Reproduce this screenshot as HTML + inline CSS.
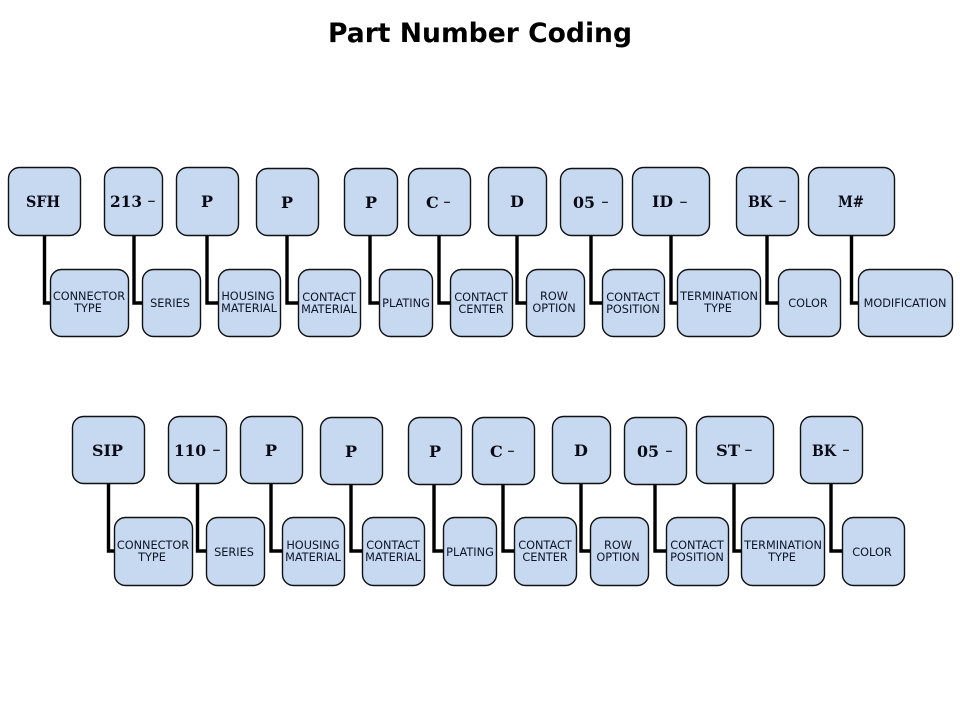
<!DOCTYPE html>
<html><head><meta charset="utf-8"><style>
html,body{margin:0;padding:0;background:#fff}
svg{display:block}
rect{fill:#c6d9f1;stroke:#111;stroke-width:1.4}
path{fill:none;stroke:#000;stroke-width:3.4}
.t{font:bold 26.6px "DejaVu Sans",sans-serif;fill:#000}
.h{font:bold 16px "DejaVu Serif",serif;fill:#0a0a14}
.d{font:16px "DejaVu Sans",sans-serif;fill:#222}
.l{font:11.3px "DejaVu Sans",sans-serif;fill:#0f1426;text-anchor:middle}
</style></head><body>
<svg width="960" height="720" viewBox="0 0 960 720" xmlns="http://www.w3.org/2000/svg">
<text class="t" x="480" y="42" text-anchor="middle">Part Number Coding</text>

<path d="M44.500 235V303H51M134 235V303H143M207 235V303H219M287 235V303H299M370 235V303H380M439 235V303H451M517 235V303H527M591 235V303H603M671 235V303H678M767 235V303H779M851.500 235V303H859"/>
<path d="M108.500 483V551H115M197.500 483V551H207M271 483V551H283M351 483V551H363M434 483V551H444M503 483V551H515M581 483V551H591M655 483V551H667M734 483V551H742M831 483V551H843"/>

<rect x="8.500" y="167.500" width="72" height="68" rx="11"/>
<rect x="104.500" y="167.500" width="58" height="68" rx="11"/>
<rect x="176.500" y="167.500" width="62" height="68" rx="11"/>
<rect x="256.500" y="168.500" width="62" height="67" rx="11"/>
<rect x="344.500" y="168.500" width="53" height="67" rx="11"/>
<rect x="408.500" y="168.500" width="62" height="67" rx="11"/>
<rect x="488.500" y="167.500" width="58" height="68" rx="11"/>
<rect x="560.500" y="168.500" width="62" height="67" rx="11"/>
<rect x="632.500" y="167.500" width="77" height="68" rx="11"/>
<rect x="736.500" y="167.500" width="62" height="68" rx="11"/>
<rect x="808.500" y="167.500" width="86" height="68" rx="11"/>

<rect x="50.500" y="269.500" width="78" height="67" rx="11"/>
<rect x="142.500" y="269.500" width="58" height="67" rx="11"/>
<rect x="218.500" y="269.500" width="62" height="67" rx="11"/>
<rect x="298.500" y="269.500" width="62" height="67" rx="11"/>
<rect x="379.500" y="269.500" width="53" height="67" rx="11"/>
<rect x="450.500" y="269.500" width="62" height="67" rx="11"/>
<rect x="526.500" y="269.500" width="58" height="67" rx="11"/>
<rect x="602.500" y="269.500" width="62" height="67" rx="11"/>
<rect x="677.500" y="269.500" width="83" height="67" rx="11"/>
<rect x="778.500" y="269.500" width="62" height="67" rx="11"/>
<rect x="858.500" y="269.500" width="94" height="67" rx="11"/>

<rect x="72.500" y="416.500" width="72" height="67" rx="11"/>
<rect x="168.500" y="416.500" width="58" height="67" rx="11"/>
<rect x="240.500" y="416.500" width="62" height="67" rx="11"/>
<rect x="320.500" y="417.500" width="62" height="67" rx="11"/>
<rect x="408.500" y="417.500" width="53" height="67" rx="11"/>
<rect x="472.500" y="417.500" width="62" height="67" rx="11"/>
<rect x="552.500" y="416.500" width="58" height="67" rx="11"/>
<rect x="624.500" y="417.500" width="62" height="67" rx="11"/>
<rect x="696.500" y="416.500" width="77" height="67" rx="11"/>
<rect x="800.500" y="416.500" width="62" height="67" rx="11"/>

<rect x="114.500" y="517.500" width="78" height="68" rx="11"/>
<rect x="206.500" y="517.500" width="58" height="68" rx="11"/>
<rect x="282.500" y="517.500" width="62" height="68" rx="11"/>
<rect x="362.500" y="517.500" width="62" height="68" rx="11"/>
<rect x="443.500" y="517.500" width="53" height="68" rx="11"/>
<rect x="514.500" y="517.500" width="62" height="68" rx="11"/>
<rect x="590.500" y="517.500" width="58" height="68" rx="11"/>
<rect x="666.500" y="517.500" width="62" height="68" rx="11"/>
<rect x="741.500" y="517.500" width="83" height="68" rx="11"/>
<rect x="842.500" y="517.500" width="62" height="68" rx="11"/>

<text class="h" x="26" y="207" textLength="34" lengthAdjust="spacingAndGlyphs">SFH</text>
<text class="h" x="110" y="207" textLength="32" lengthAdjust="spacingAndGlyphs">213</text><text class="d" x="147" y="206" textLength="9" lengthAdjust="spacingAndGlyphs">-</text>
<text class="h" x="201" y="207">P</text>
<text class="h" x="281" y="208">P</text>
<text class="h" x="365" y="208">P</text>
<text class="h" x="426" y="208">C</text><text class="d" x="443" y="207" textLength="8" lengthAdjust="spacingAndGlyphs">-</text>
<text class="h" x="510" y="207">D</text>
<text class="h" x="573" y="208" textLength="22" lengthAdjust="spacingAndGlyphs">05</text><text class="d" x="601" y="207" textLength="8" lengthAdjust="spacingAndGlyphs">-</text>
<text class="h" x="652" y="207" textLength="21" lengthAdjust="spacingAndGlyphs">ID</text><text class="d" x="679" y="207" textLength="9" lengthAdjust="spacingAndGlyphs">-</text>
<text class="h" x="748" y="207" textLength="24" lengthAdjust="spacingAndGlyphs">BK</text><text class="d" x="778" y="206" textLength="9" lengthAdjust="spacingAndGlyphs">-</text>
<text class="h" x="838" y="207" textLength="26" lengthAdjust="spacingAndGlyphs">M#</text>

<text class="h" x="92" y="456" textLength="31" lengthAdjust="spacingAndGlyphs">SIP</text>
<text class="h" x="174" y="456" textLength="32" lengthAdjust="spacingAndGlyphs">110</text><text class="d" x="212" y="455" textLength="9" lengthAdjust="spacingAndGlyphs">-</text>
<text class="h" x="265" y="456">P</text>
<text class="h" x="345" y="457">P</text>
<text class="h" x="429" y="457">P</text>
<text class="h" x="490" y="457">C</text><text class="d" x="507" y="456" textLength="8" lengthAdjust="spacingAndGlyphs">-</text>
<text class="h" x="574" y="456">D</text>
<text class="h" x="637" y="457" textLength="22" lengthAdjust="spacingAndGlyphs">05</text><text class="d" x="665" y="456" textLength="8" lengthAdjust="spacingAndGlyphs">-</text>
<text class="h" x="716" y="456" textLength="24" lengthAdjust="spacingAndGlyphs">ST</text><text class="d" x="744" y="455" textLength="9" lengthAdjust="spacingAndGlyphs">-</text>
<text class="h" x="812" y="456" textLength="24" lengthAdjust="spacingAndGlyphs">BK</text><text class="d" x="842" y="455" textLength="8" lengthAdjust="spacingAndGlyphs">-</text>

<text class="l" x="89" y="300">CONNECTOR</text><text class="l" x="88" y="312">TYPE</text>
<text class="l" x="170" y="307">SERIES</text>
<text class="l" x="248" y="300">HOUSING</text><text class="l" x="249" y="312">MATERIAL</text>
<text class="l" x="329" y="301">CONTACT</text><text class="l" x="329" y="313">MATERIAL</text>
<text class="l" x="406" y="307">PLATING</text>
<text class="l" x="481" y="301">CONTACT</text><text class="l" x="481" y="313">CENTER</text>
<text class="l" x="554" y="300">ROW</text><text class="l" x="554" y="312">OPTION</text>
<text class="l" x="633" y="301">CONTACT</text><text class="l" x="633" y="313">POSITION</text>
<text class="l" x="719" y="300">TERMINATION</text><text class="l" x="718" y="312">TYPE</text>
<text class="l" x="808" y="307">COLOR</text>
<text class="l" x="905" y="307">MODIFICATION</text>

<text class="l" x="153" y="549">CONNECTOR</text><text class="l" x="152" y="561">TYPE</text>
<text class="l" x="234" y="556">SERIES</text>
<text class="l" x="313" y="549">HOUSING</text><text class="l" x="313" y="561">MATERIAL</text>
<text class="l" x="393" y="549">CONTACT</text><text class="l" x="393" y="561">MATERIAL</text>
<text class="l" x="470" y="556">PLATING</text>
<text class="l" x="545" y="549">CONTACT</text><text class="l" x="545" y="561">CENTER</text>
<text class="l" x="618" y="549">ROW</text><text class="l" x="618" y="561">OPTION</text>
<text class="l" x="697" y="549">CONTACT</text><text class="l" x="697" y="561">POSITION</text>
<text class="l" x="783" y="549">TERMINATION</text><text class="l" x="782" y="561">TYPE</text>
<text class="l" x="872" y="556">COLOR</text>
</svg>
</body></html>
